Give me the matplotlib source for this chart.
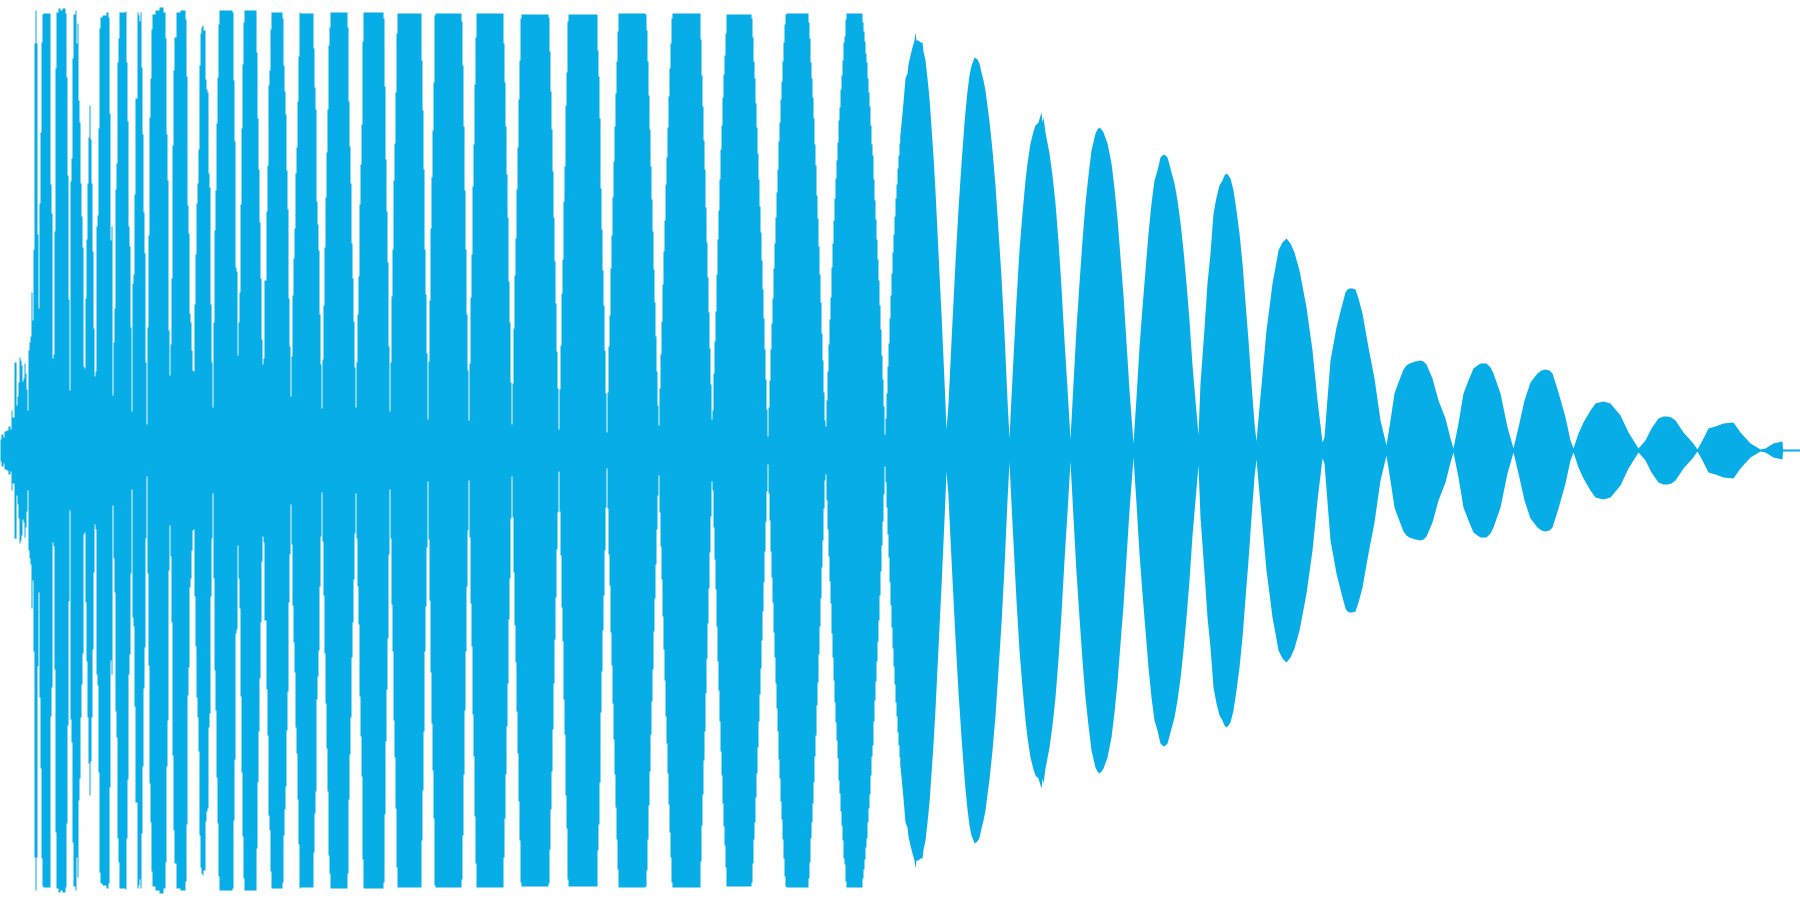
import matplotlib
matplotlib.use("Agg")
import matplotlib.pyplot as plt

# Waveform envelope: (time, peak amplitude).
# Time runs 0-1800 and amplitude +/-450 across the image.
onset = [(0,11),(1,16),(3,13),(4,19),(6,20),(8,24),(10,21),(11,40),(12,33),(14,88),(16,45),(17,54),(18,68),(19,93),(20,90),(21,85),(22,69),(23,72),(24,87),(25,77),(26,61),(27,40),(28,100),(29,108),(30,114),(31,158),(32,130),(33,201),(34,407),(35,440),(36,407),(37,216),(38,142),(39,247),(40,318),(41,408),(42,436),(43,437),(50,266),(51,237),(52,92),(53,96),(54,219),(55,382),(56,438),(58,442),(60,440),(62,442),(65,437),(66,373),(67,275),(68,151),(69,60),(70,269),(71,292),(72,392),(73,436),(75,440),(76,407),(77,427),(78,350),(79,328),(80,267),(81,234),(82,203),(83,84),(84,82),(85,152),(86,211),(87,267),(88,313),(89,345),(90,311),(91,267),(92,199),(93,122),(94,74),(95,79),(96,224),(97,235),(98,322),(99,422),(100,433),(102,435),(106,438),(108,433),(109,337),(110,210),(111,224),(112,55),(113,108),(114,142),(115,261),(116,287),(117,388),(118,412),(119,438),(125,439),(126,388),(127,329),(128,224),(129,204),(130,123),(131,39),(132,167),(133,176),(134,256),(135,352),(136,352),(137,438),(138,435),(139,429),(140,438),(141,383),(142,316),(143,238),(144,197),(145,88),(146,26),(147,123),(148,215),(149,333),(150,372),(151,421),(152,436),(155,440),(159,443),(163,438),(165,412),(166,316),(167,270),(168,120),(169,75),(170,106),(171,172),(172,305),(173,380),(174,413),(176,438),(180,440),(185,431),(186,374),(187,245),(188,217),(189,137),(190,128),(191,100),(192,80),(193,79),(194,146),(195,196),(196,247),(197,267),(198,301),(199,385),(200,417),(201,423),(202,425),(203,420),(205,371),(206,361),(207,358),(208,277),(209,263),(210,146),(211,88),(212,43),(213,128),(214,220),(215,260),(216,327),(217,373),(218,426),(219,440),(232,438),(233,370),(234,309),(235,183),(236,179),(237,95),(238,128),(239,158),(240,246),(241,322),(242,386),(243,428),(244,440),(256,398),(257,332),(258,281),(259,228),(260,172),(261,111),(262,86),(263,92),(264,170),(265,170),(266,239),(267,285),(268,365),(269,380),(270,421),(271,438),(282,432),(283,385),(284,359),(285,336),(286,280),(287,241),(288,152),(289,104),(290,54),(291,94),(292,155),(293,192),(294,222),(295,277),(296,303),(297,349),(298,394),(299,438)]

sustain = [(300,437),(313,402),(314,363),(315,341),(316,249),(317,226),(318,200),(319,136),(320,86),(321,42),(322,91),(323,145),(324,203),(325,253),(326,298),(327,341),(328,405),(329,423),(330,438),(347,423),(348,349),(349,304),(350,267),(351,207),(352,172),(353,129),(354,83),(355,43),(356,88),(357,136),(358,174),(359,246),(360,286),(361,326),(362,409),(363,438),(383,432),(384,364),(385,291),(386,239),(387,188),(388,104),(389,39),(390,88),(391,154),(392,201),(393,270),(394,307),(395,358),(396,417),(397,437),(421,390),(422,340),(423,281),(424,201),(425,156),(426,97),(427,31),(428,89),(429,150),(430,222),(431,273),(432,320),(433,368),(434,435),(435,437),(461,429),(462,385),(463,324),(464,260),(465,201),(466,136),(467,80),(468,30),(469,87),(470,153),(471,196),(472,264),(473,306),(474,366),(475,413),(476,437),(503,407),(504,368),(505,324),(506,276),(507,233),(508,169),(509,128),(510,68),(511,26),(512,67),(513,122),(514,175),(515,212),(516,261),(517,303),(518,351),(519,390),(520,432),(521,436),(548,433),(549,399),(550,359),(551,321),(552,279),(553,233),(554,189),(555,147),(556,99),(557,62),(558,21),(559,61),(560,105),(561,157),(562,191),(563,249),(564,284),(565,345),(566,378),(567,429),(568,436),(597,400),(598,374),(599,332),(600,262),(601,221),(602,180),(603,145),(604,100),(605,57),(606,18),(607,58),(608,104),(609,135),(610,182),(611,215),(612,253),(613,289),(614,324),(615,357),(616,389),(617,419),(618,437),(645,436),(646,420),(647,389),(648,355),(649,321),(650,284),(651,251),(652,219),(653,181),(654,148),(655,114),(656,79),(657,45),(658,25),(659,62),(660,96),(661,129),(662,166),(663,199),(664,230),(665,266),(666,293),(667,323),(668,354),(669,382),(670,407),(671,432),(672,437),(700,411),(701,375),(702,344),(703,310),(704,281),(705,243),(706,208),(707,173),(708,138),(709,102),(710,66),(711,31),(712,40),(713,77),(714,109),(715,139),(716,176),(717,211),(718,240),(719,271),(720,301),(721,325),(722,353),(723,376),(724,395),(725,417),(726,436),(751,432),(752,413),(753,389),(754,372),(755,347),(756,323),(757,297),(758,271),(759,244),(760,218),(761,190),(762,161),(763,132),(764,101),(765,71),(766,41),(767,14),(768,43),(769,70),(770,101),(771,127),(772,152),(773,182),(774,207),(775,233),(776,258),(777,281),(778,309),(779,328),(780,351),(781,369),(782,389),(783,408),(784,426),(785,436),(786,437),(808,428),(809,412),(810,388),(811,372),(812,353),(813,332),(814,306),(815,285),(816,255),(817,232),(818,204),(819,176),(820,148),(821,117),(822,90),(823,58),(824,30),(825,24),(826,50),(827,79),(828,106),(829,131),(830,153),(831,183),(832,207),(833,230),(834,252),(835,272),(836,290),(837,308),(838,330),(839,343),(840,361),(841,375),(842,390),(843,408),(844,414),(845,431),(846,437),(862,428),(863,419),(864,409),(865,397),(866,388),(867,372),(868,358),(869,344),(870,325),(871,306),(872,295),(873,271),(874,250),(875,231),(876,211),(877,191),(878,170),(879,145),(880,121),(881,95),(882,71),(883,44),(884,16),(885,32),(886,57),(887,84),(888,107),(889,132),(890,155),(891,177),(892,198),(893,216),(894,234),(895,252),(896,266),(897,282),(898,295),(899,307),(900,316),(901,330)]

decay = [(900,316),(903,348),(905,372),(907,377),(908,386),(910,395),(912,403),(914,410),(915,418),(916,410),(918,410),(920,408),(922,408),(923,399),(925,390),(927,372),(929,352),(931,323),(933,294),(935,259),(937,218),(939,177),(941,136),(943,92),(945,46),(946,21),(948,46),(950,88),(952,129),(955,188),(958,241),(961,287),(964,327),(965,339),(967,359),(969,375),(971,385),(973,390),(974,393),(977,391),(979,387),(981,378),(983,370),(985,360),(987,344),(989,329),(992,300),(995,265),(998,220),(1001,173),(1004,117),(1007,50),(1009,12),(1011,53),(1013,92),(1016,150),(1019,200),(1022,237),(1025,270),(1027,287),(1030,307),(1033,319),(1035,325),(1038,328),(1041,338),(1042,328),(1043,333),(1045,318),(1049,297),(1052,275),(1055,247),(1058,209),(1061,163),(1064,110),(1067,62),(1070,11),(1073,67),(1076,122),(1079,167),(1082,210),(1085,247),(1088,275),(1091,300),(1095,317),(1097,321),(1099,323),(1101,321),(1103,318),(1107,307),(1111,287),(1114,262),(1117,232),(1120,193),(1123,155),(1126,108),(1129,60),(1133,7),(1136,53),(1139,103),(1142,143),(1145,180),(1148,217),(1151,247),(1154,270),(1157,280),(1160,293),(1162,295),(1164,296),(1167,293),(1170,282),(1174,267),(1177,250),(1180,228),(1183,200),(1186,167),(1189,130),(1192,85),(1195,50),(1198,15),(1200,67),(1204,122),(1207,167),(1210,197),(1213,237),(1216,253),(1219,265),(1222,270),(1224,275),(1226,277),(1228,275),(1230,272),(1233,260),(1236,240),(1239,217),(1242,187),(1245,148),(1248,110),(1251,67),(1254,27),(1256,9),(1259,43),(1263,87),(1266,120),(1269,143),(1272,167),(1275,183),(1278,200),(1282,208),(1286,212),(1290,207),(1294,198),(1299,180)]

tail = [(1300,175),(1306,143),(1312,100),(1317,50),(1322,8),(1324,13),(1330,90),(1336,123),(1341,143),(1345,158),(1347,161),(1349,162),(1352,162),(1355,161),(1358,152),(1362,137),(1368,103),(1374,72),(1380,30),(1386,5),(1390,30),(1394,57),(1398,68),(1403,81),(1406,85),(1409,87),(1415,89),(1420,90),(1423,89),(1426,86),(1432,72),(1438,50),(1445,32),(1450,12),(1453,2),(1458,27),(1463,57),(1468,70),(1473,82),(1477,85),(1480,87),(1486,87),(1490,83),(1493,77),(1500,57),(1507,23),(1513,2),(1518,23),(1524,50),(1530,68),(1537,77),(1541,80),(1545,81),(1549,80),(1552,77),(1558,58),(1565,33),(1570,10),(1573,2),(1578,17),(1583,28),(1590,40),(1595,47),(1603,49),(1610,47),(1620,35),(1628,18),(1638,2),(1645,10),(1651,22),(1658,32),(1663,34),(1667,34),(1671,33),(1675,30),(1683,18),(1692,8),(1697,1),(1702,10),(1708,22),(1715,24),(1723,27),(1733,28),(1740,18),(1750,7),(1760,1),(1765,2),(1773,7),(1782,9),(1782.5,1),(1800,1)]

stepped = onset + sustain
smooth = decay + tail

fig = plt.figure(figsize=(18, 9), dpi=100, facecolor="white")
ax = fig.add_axes([0, 0, 1, 1])

for segment, step in ((stepped, "post"), (smooth, None)):
    t = [p[0] for p in segment]
    a = [p[1] for p in segment]
    ax.fill_between(t, [-v for v in a], a, step=step, color="#06ADE6",
                    linewidth=0, antialiased=False)

ax.set_xlim(0, 1800)
ax.set_ylim(-450, 450)
ax.axis("off")
fig.savefig("out.png", dpi=100, facecolor="white")
